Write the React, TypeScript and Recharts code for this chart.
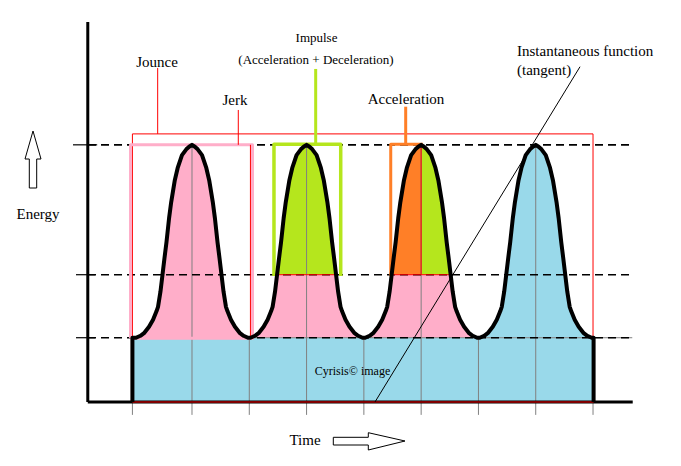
import React from 'react';
import { ComposedChart, Area, Line, XAxis, YAxis } from 'recharts';

// ---- data (Time in grid steps, Energy in levels) ----
const pulseCenters = [1, 3, 5, 7];
const pulseOffsets = [-0.977, -0.9, -0.838, -0.75, -0.68, -0.62, -0.593, -0.55, -0.515, -0.48, -0.445, -0.4, -0.363, -0.3, -0.25, -0.175, -0.1, -0.05, 0, 0.05, 0.1, 0.175, 0.25, 0.3, 0.363, 0.4, 0.445, 0.48, 0.515, 0.55, 0.593, 0.62, 0.68, 0.75, 0.838, 0.9, 0.977];
const pulseEnergy = [1.0, 1.03, 1.07, 1.17, 1.28, 1.41, 1.48, 1.72, 1.98, 2.24, 2.49, 2.86, 3.11, 3.45, 3.64, 3.84, 3.93, 3.97, 4.0, 3.97, 3.93, 3.84, 3.64, 3.45, 3.11, 2.86, 2.49, 2.24, 1.98, 1.72, 1.48, 1.41, 1.28, 1.17, 1.07, 1.03, 1.0];
const signalStart = -0.04;
const signalEnd = 8.01;
const baseLevel = 1;
const midLevel = 1.98;
const peakLevel = 4;
const gridTimes = [-0.04, 1, 2, 3, 4, 5, 6, 7, 8];
const pulseFill = ['#FFAEC9', 'split-green', 'split-orange', '#99D9EA'];

// ---- layout ----
const W = 681;
const H = 466;
const X_DOMAIN: [number, number] = [-1.304, 8.82];
const Y_DOMAIN: [number, number] = [-0.964, 6.097];
const AXIS_LEFT = -0.819;
const AXIS_RIGHT = 8.693;
const AXIS_TOP = 5.911;
const DASH_LEFT = -0.815;
const DASH_RIGHT = 8.685;

type P = { t: number; v: number };
type R = { t: number; r: [number, number] };

const pulse = (c: number): (P & { o: number })[] =>
  pulseOffsets.map((o, i) => ({ t: +(c + o).toFixed(3), v: pulseEnergy[i], o }));

const curveData: P[] = [
  { t: signalStart, v: 0 },
  { t: signalStart, v: baseLevel },
  ...pulseCenters.flatMap((c) => pulse(c).map(({ t, v }) => ({ t, v }))),
  { t: signalEnd, v: baseLevel },
  { t: signalEnd, v: 0 },
];

const baseRect: R[] = [
  { t: signalStart, r: [0, baseLevel] },
  { t: signalEnd, r: [0, baseLevel] },
];

type FillSpec = { key: string; color: string; data: R[] };
const fills: FillSpec[] = [];
pulseCenters.forEach((c, i) => {
  const pts = pulse(c);
  const kind = pulseFill[i];
  if (kind.startsWith('#')) {
    fills.push({ key: `full${i}`, color: kind, data: pts.map((p) => ({ t: p.t, r: [baseLevel, p.v] })) });
  } else {
    fills.push({
      key: `low${i}`,
      color: '#FFAEC9',
      data: pts.map((p) => ({ t: p.t, r: [baseLevel, Math.min(p.v, midLevel)] })),
    });
    const top = pts.filter((p) => p.v >= midLevel);
    if (kind === 'split-green') {
      fills.push({ key: `top${i}`, color: '#B5E61D', data: top.map((p) => ({ t: p.t, r: [midLevel, p.v] })) });
    } else {
      fills.push({
        key: `topL${i}`,
        color: '#FF7F27',
        data: top.filter((p) => p.o <= 0).map((p) => ({ t: p.t, r: [midLevel, p.v] })),
      });
      fills.push({
        key: `topR${i}`,
        color: '#B5E61D',
        data: top.filter((p) => p.o >= 0).map((p) => ({ t: p.t, r: [midLevel, p.v] })),
      });
    }
  }
});

const poly = (...pts: [number, number][]): P[] => pts.map(([t, v]) => ({ t, v }));

type LineSpec = { key: string; data: P[]; color: string; width: number; dash?: string };
const lines: LineSpec[] = [];
gridTimes.forEach((t, i) => {
  const top = pulseCenters.includes(t) ? peakLevel : baseLevel;
  lines.push({ key: `g${i}`, data: poly([t, -0.2], [t, top]), color: '#808080', width: 1 });
});
lines.push({ key: 'gbase', data: poly([signalStart, baseLevel], [DASH_RIGHT, baseLevel]), color: '#808080', width: 1 });
[peakLevel, midLevel, baseLevel].forEach((lv, i) =>
  lines.push({ key: `d${i}`, data: poly([DASH_LEFT, lv], [DASH_RIGHT, lv]), color: '#000', width: 1.6, dash: '8 5' })
);
// axes and ticks
lines.push({ key: 'yax', data: poly([AXIS_LEFT, 0], [AXIS_LEFT, AXIS_TOP]), color: '#000', width: 3 });
lines.push({ key: 'xax', data: poly([AXIS_LEFT, 0], [AXIS_RIGHT, 0]), color: '#000', width: 3 });
lines.push({ key: 'tk1', data: poly([-1.077, peakLevel], [-0.655, peakLevel]), color: '#000', width: 1.2 });
lines.push({ key: 'tk2', data: poly([-1.025, midLevel], [-0.693, midLevel]), color: '#000', width: 1.2 });
lines.push({ key: 'tk3', data: poly([-1.025, baseLevel], [-0.693, baseLevel]), color: '#000', width: 1.2 });
lines.push({ key: 'redbot', data: poly([signalStart, 0], [signalEnd, 0]), color: '#FF0000', width: 1.2 });
// Jounce frame
lines.push({
  key: 'jounce',
  data: poly([signalStart, baseLevel], [signalStart, 4.17], [8, 4.17], [8, baseLevel]),
  color: '#FF0000',
  width: 1,
});
lines.push({ key: 'jounceC', data: poly([0.401, 4.17], [0.401, 5.195]), color: '#FF0000', width: 1 });
// Jerk frame
lines.push({
  key: 'jerk',
  data: poly([-0.073, 0.99], [-0.073, peakLevel], [2.056, peakLevel], [2.056, 0.99], [-0.073, 0.99]),
  color: '#FFAEC9',
  width: 3,
});
lines.push({ key: 'jerkIn', data: poly([2.02, baseLevel], [2.02, peakLevel]), color: '#FF0000', width: 1 });
lines.push({ key: 'jerkC', data: poly([1.808, peakLevel], [1.808, 4.542]), color: '#FF0000', width: 1 });
// Impulse frame
lines.push({
  key: 'imp',
  data: poly([2.431, 1.96], [2.431, 4.01], [3.596, 4.01], [3.596, 1.96]),
  color: '#B5E61D',
  width: 3.5,
});
lines.push({ key: 'impC', data: poly([3.159, 4.01], [3.159, 5.18]), color: '#B5E61D', width: 3 });
// Acceleration frame
lines.push({
  key: 'acc',
  data: poly([4.469, 1.96], [4.469, 4.01], [5.03, 4.01]),
  color: '#FF7F27',
  width: 3,
});
lines.push({ key: 'accC', data: poly([4.73, 4.01], [4.73, 4.593]), color: '#FF7F27', width: 3 });
// red split lines
lines.push({ key: 'r1', data: poly([2.485, midLevel], [3.515, midLevel]), color: '#FF0000', width: 1 });
lines.push({ key: 'r2', data: poly([4.469, midLevel], [5.515, midLevel]), color: '#FF0000', width: 1 });
lines.push({ key: 'r3', data: poly([5, midLevel], [5, peakLevel]), color: '#FF0000', width: 1 });
// energy signal
lines.push({ key: 'curve', data: curveData, color: '#000', width: 4 });
// tangent
lines.push({ key: 'tan', data: poly([7.773, 5.215], [4.194, 0]), color: '#000', width: 1 });

const serif = "'Liberation Serif', 'Times New Roman', 'DejaVu Serif', serif";
const txt = { fontFamily: serif };

export default function App() {
  return (
    <div style={{ position: 'absolute', left: 0, top: 0, width: W, height: H, background: '#fff' }}>
      <ComposedChart width={W} height={H} margin={{ top: 10, right: 41, bottom: 2, left: 60 }}>
        <XAxis type="number" dataKey="t" domain={X_DOMAIN} allowDataOverflow hide />
        <YAxis type="number" domain={Y_DOMAIN} allowDataOverflow hide />
        <Area
          data={baseRect}
          dataKey="r"
          type="linear"
          stroke="none"
          fill="#99D9EA"
          fillOpacity={1}
          isAnimationActive={false}
          dot={false}
          activeDot={false}
        />
        {fills.map((f) => (
          <Area
            key={f.key}
            data={f.data}
            dataKey="r"
            type="linear"
            stroke="none"
            fill={f.color}
            fillOpacity={1}
            isAnimationActive={false}
            dot={false}
            activeDot={false}
          />
        ))}
        {lines.map((l) => (
          <Line
            key={l.key}
            data={l.data}
            dataKey="v"
            type="linear"
            stroke={l.color}
            strokeWidth={l.width}
            strokeDasharray={l.dash}
            strokeLinejoin="round"
            dot={false}
            activeDot={false}
            isAnimationActive={false}
          />
        ))}
      </ComposedChart>
      <svg
        width={W}
        height={H}
        style={{ position: 'absolute', left: 0, top: 0, pointerEvents: 'none', fontFamily: serif }}
        fill="#000"
      >
        <text style={txt} x={157} y={66.5} fontSize={15} textAnchor="middle">Jounce</text>
        <text style={txt} x={235} y={105} fontSize={15} textAnchor="middle">Jerk</text>
        <text style={txt} x={406} y={104} fontSize={15} textAnchor="middle">Acceleration</text>
        <text style={txt} x={316.5} y={41.5} fontSize={13} textAnchor="middle">Impulse</text>
        <text style={txt} x={316} y={63.5} fontSize={13} textAnchor="middle">(Acceleration + Deceleration)</text>
        <text style={txt} x={517} y={56} fontSize={15}>Instantaneous function</text>
        <text style={txt} x={517} y={75} fontSize={15}>(tangent)</text>
        <text style={txt} x={38} y={219} fontSize={15} textAnchor="middle">Energy</text>
        <text style={txt} x={305} y={445} fontSize={15} textAnchor="middle">Time</text>
        <text style={txt} x={352.5} y={375} fontSize={12} textAnchor="middle">Cyrisis© image</text>
        <polygon
          points="33,131 41,159 36.7,159 36.7,188 29.3,188 29.3,159 25,159"
          fill="#fff"
          stroke="#000"
          strokeWidth={1}
        />
        <polygon
          points="333.3,437.3 368.3,437.3 368.3,432.7 405,441 368.3,450 368.3,445 333.3,445"
          fill="#fff"
          stroke="#000"
          strokeWidth={1}
        />
      </svg>
    </div>
  );
}
